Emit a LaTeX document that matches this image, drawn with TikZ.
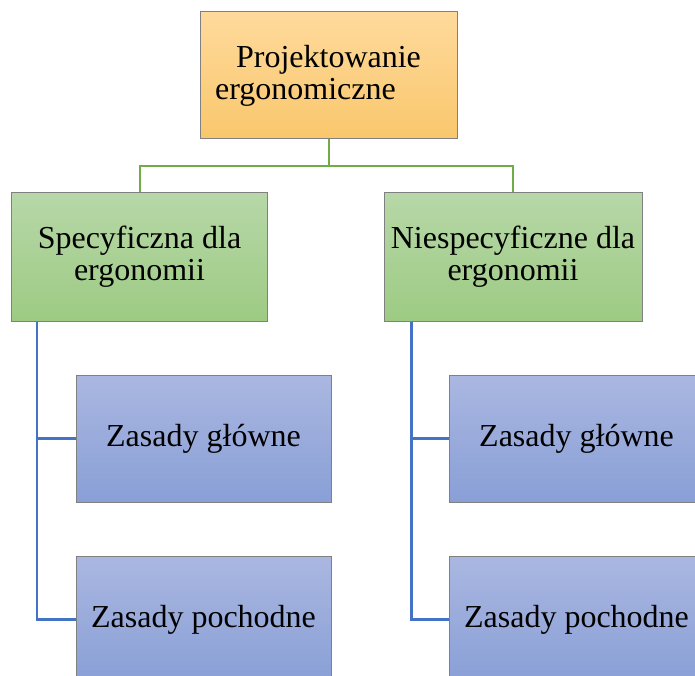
\documentclass[tikz,border=0pt]{standalone}
\usepackage{fontspec}
\setmainfont{Liberation Serif}
\usetikzlibrary{calc}
\definecolor{orTop}{RGB}{255,218,156}
\definecolor{orBot}{RGB}{249,199,108}
\definecolor{grTop}{RGB}{183,215,168}
\definecolor{grBot}{RGB}{157,203,131}
\definecolor{blTop}{RGB}{170,183,225}
\definecolor{blBot}{RGB}{137,159,214}
\definecolor{lnGreen}{RGB}{112,173,71}
\definecolor{lnBlue}{RGB}{68,114,196}
\definecolor{edge}{RGB}{128,128,128}
\tikzset{
  box/.style={rectangle, draw=edge, line width=1pt, inner sep=0pt, align=center,
    font=\fontsize{32}{32}\selectfont, text=black},
  orbox/.style={box, top color=orTop, bottom color=orBot, minimum width=257pt, minimum height=127pt},
  grbox/.style={box, top color=grTop, bottom color=grBot, minimum width=256pt, minimum height=128pt},
  blbox/.style={box, top color=blTop, bottom color=blBot, minimum width=255pt, minimum height=127pt},
  glink/.style={draw=lnGreen, line width=2pt},
  blink/.style={draw=lnBlue, line width=2.2pt}
}
\begin{document}
\begin{tikzpicture}[x=1pt,y=-1pt]
\useasboundingbox (0,0) rectangle (695,676);
\clip (0,0) rectangle (695,676);
\node[orbox] (top) at (328.5,75.5) {Projektowanie\\ergonomiczne\rule{46pt}{0pt}};
\node[grbox] (L) at (139.5,257) {Specyficzna dla\\ergonomii};
\node[grbox, minimum width=258pt] (R) at (513,257) {Niespecyficzne dla\\ergonomii};
\node[blbox] (L1) at (203.5,438.5) {Zasady główne};
\node[blbox] (L2) at (203.5,619.5) {Zasady pochodne};
\node[blbox] (R1) at (576.5,438.5) {Zasady główne};
\node[blbox] (R2) at (576.5,619.5) {Zasady pochodne};
\coordinate (gmid) at ($(top.south)+(0,27)$);
\draw[glink] (top.south) -- (gmid) -| (L.north);
\draw[glink] (gmid) -| (R.north);
\coordinate (lstem) at ($(L.south west)+(26,0)$);
\coordinate (rstem) at ($(R.south west)+(28,0)$);
\draw[blink] (lstem) |- (L1.west);
\draw[blink] (lstem) |- (L2.west);
\draw[blink] (rstem) |- (R1.west);
\draw[blink] (rstem) |- (R2.west);
\end{tikzpicture}
\end{document}
